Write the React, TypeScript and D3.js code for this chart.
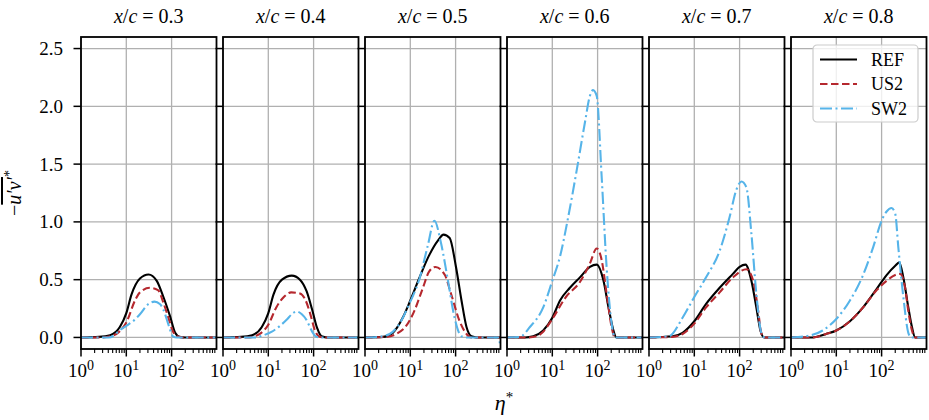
import React from "react";
import * as d3 from "d3";

// x/c stations, one panel each
const STATIONS = ["0.3", "0.4", "0.5", "0.6", "0.7", "0.8"];
const X_TICKS = [1, 10, 100];
const X_TICK_EXP = ["0", "1", "2"];
const Y_TICKS = [0, 0.5, 1.0, 1.5, 2.0, 2.5];

// [eta*, -u'v'*]
const REF = [
  [[1, 0], [2.5, 0.005], [4.4, 0.02], [7.2, 0.09], [10, 0.21], [13, 0.37], [20, 0.51], [31, 0.545], [47, 0.49], [66, 0.35], [93, 0.18], [120, 0.04], [150, 0.005], [200, 0], [980, 0]],
  [[1, 0], [2.5, 0.005], [4.4, 0.02], [7.2, 0.09], [10, 0.21], [13, 0.37], [20, 0.5], [33, 0.535], [50, 0.5], [70, 0.4], [93, 0.24], [120, 0.08], [150, 0.01], [200, 0], [980, 0]],
  [[1, 0], [2.5, 0.005], [4.1, 0.04], [6.8, 0.17], [10, 0.32], [16, 0.52], [26, 0.71], [41, 0.84], [54, 0.89], [74, 0.86], [102, 0.61], [135, 0.32], [174, 0.09], [224, 0.01], [300, 0], [980, 0]],
  [[1, 0], [2.5, 0], [3.8, 0.01], [6.3, 0.06], [10, 0.17], [14.8, 0.32], [24.5, 0.43], [40.7, 0.52], [67.6, 0.61], [95.5, 0.63], [135, 0.49], [174, 0.26], [224, 0.06], [260, 0], [980, 0]],
  [[1, 0], [3.3, 0.01], [5.5, 0.04], [10, 0.14], [18.2, 0.29], [36.3, 0.43], [71, 0.55], [100, 0.61], [135, 0.63], [182, 0.49], [234, 0.26], [288, 0.06], [350, 0], [980, 0]],
  [[1, 0], [3, 0], [6, 0.03], [10, 0.06], [20, 0.14], [39, 0.26], [78, 0.42], [129, 0.54], [200, 0.62], [245, 0.65], [302, 0.52], [389, 0.26], [468, 0.09], [550, 0], [980, 0]],
];
const US2 = [
  [[1, 0], [3, 0], [4.5, 0.01], [7, 0.05], [10, 0.13], [16, 0.33], [20, 0.39], [33, 0.43], [50, 0.41], [66, 0.3], [85, 0.17], [105, 0.06], [130, 0.01], [180, 0], [980, 0]],
  [[1, 0], [3.5, 0], [5, 0.01], [7, 0.04], [10, 0.11], [15, 0.26], [22, 0.35], [32, 0.39], [50, 0.38], [65, 0.33], [85, 0.2], [105, 0.07], [130, 0.01], [170, 0], [980, 0]],
  [[1, 0], [3, 0.005], [4.9, 0.03], [8.1, 0.1], [12.3, 0.23], [19, 0.43], [26, 0.57], [36, 0.61], [58, 0.54], [79, 0.38], [123, 0.14], [174, 0.03], [220, 0], [980, 0]],
  [[1, 0], [3, 0], [4.5, 0.01], [6.3, 0.05], [10, 0.16], [20, 0.35], [40.7, 0.48], [67.6, 0.64], [95.5, 0.77], [123, 0.67], [158, 0.38], [204, 0.09], [240, 0], [980, 0]],
  [[1, 0], [3.3, 0.005], [5.5, 0.03], [10, 0.12], [18.2, 0.26], [36.3, 0.39], [71, 0.52], [141, 0.59], [200, 0.49], [257, 0.23], [300, 0.04], [350, 0], [980, 0]],
  [[1, 0], [3, 0], [6, 0.03], [10, 0.06], [20, 0.14], [39, 0.26], [78, 0.41], [129, 0.49], [200, 0.54], [257, 0.55], [330, 0.43], [389, 0.23], [468, 0.06], [550, 0], [980, 0]],
];
const SW2 = [
  [[1, 0], [4, 0], [5.5, 0.02], [7, 0.06], [10, 0.1], [15, 0.15], [20, 0.2], [31, 0.29], [42, 0.31], [55, 0.29], [66, 0.24], [87, 0.1], [107, 0.01], [130, 0], [980, 0]],
  [[1, 0], [5, 0], [8, 0.02], [12, 0.05], [18, 0.1], [25, 0.15], [35, 0.21], [42, 0.225], [55, 0.2], [70, 0.15], [85, 0.08], [100, 0.03], [115, 0.005], [140, 0], [980, 0]],
  [[1, 0], [2, 0.005], [3.5, 0.03], [5.8, 0.12], [9.5, 0.29], [16, 0.51], [24.5, 0.8], [34, 1.01], [48, 0.81], [68, 0.49], [95, 0.17], [135, 0.01], [180, 0], [870, 0], [980, -0.08]],
  [[1, 0], [1.9, 0.005], [3.2, 0.09], [6.3, 0.26], [10, 0.49], [14.8, 0.7], [22.4, 1.04], [34.7, 1.45], [52.5, 1.86], [67.6, 2.09], [79.4, 2.14], [95.5, 2.09], [123, 1.39], [158, 0.61], [204, 0.12], [240, 0], [980, 0]],
  [[1, 0], [2.75, 0.01], [5.5, 0.17], [10, 0.35], [18.2, 0.52], [36.3, 0.75], [60, 1.04], [85, 1.28], [110, 1.35], [141, 1.3], [182, 0.9], [234, 0.38], [302, 0.04], [360, 0], [980, 0]],
  [[1, 0], [2.1, 0.01], [5, 0.06], [10, 0.16], [20, 0.32], [39, 0.54], [65, 0.78], [100, 1.01], [129, 1.09], [166, 1.12], [200, 1.07], [234, 0.78], [302, 0.35], [389, 0.04], [450, 0], [980, 0]],
];

const SERIES = [
  { name: "REF", data: REF, color: "#000000", dash: null },
  { name: "US2", data: US2, color: "#b5282e", dash: "7.5,3.5" },
  { name: "SW2", data: SW2, color: "#56b4e9", dash: "12,3.5,2,3.5" },
];

const W = 929;
const H = 420;
const LEFT = 81;
const PW = 135.5;
const GAP = 6.5;
const TOP = 37;
const BOTTOM = 349;
const FONT = "'Liberation Serif', 'DejaVu Serif', serif";

export default function App() {
  const x = d3.scaleLog().domain([1, 980]).range([0, PW]);
  const y = d3.scaleLinear().domain([-0.1, 2.6]).range([BOTTOM, TOP]);
  const minor = d3.range(0, 3).flatMap((e) => d3.range(2, 10).map((m) => m * 10 ** e)).filter((v) => v < 980);
  const line = d3
    .line<number[]>()
    .x((d) => x(d[0]))
    .y((d) => y(d[1]))
    .curve(d3.curveMonotoneX);

  return (
    <svg width={W} height={H} style={{ position: "absolute", left: 0, top: 0 }} fontFamily={FONT}>
      <rect width={W} height={H} fill="#fff" />
      {STATIONS.map((st, i) => {
        const x0 = LEFT + i * (PW + GAP);
        return (
          <g key={st} transform={`translate(${x0},0)`}>
            <clipPath id={`clip${i}`}>
              <rect x={0} y={TOP} width={PW} height={BOTTOM - TOP} />
            </clipPath>
            {/* grid */}
            {X_TICKS.map((t) => (
              <line key={t} x1={x(t)} x2={x(t)} y1={TOP} y2={BOTTOM} stroke="#b0b0b0" strokeWidth={1.3} />
            ))}
            {Y_TICKS.map((t) => (
              <line key={t} x1={0} x2={PW} y1={y(t)} y2={y(t)} stroke="#b0b0b0" strokeWidth={1.3} />
            ))}
            {/* curves */}
            <g clipPath={`url(#clip${i})`}>
              {SERIES.map((s) => (
                <path
                  key={s.name}
                  d={line(s.data[i] as number[][]) || ""}
                  fill="none"
                  stroke={s.color}
                  strokeWidth={2.1}
                  strokeDasharray={s.dash || undefined}
                />
              ))}
            </g>
            {/* spines */}
            <rect x={0} y={TOP} width={PW} height={BOTTOM - TOP} fill="none" stroke="#000" strokeWidth={1.8} />
            {/* y ticks */}
            {Y_TICKS.map((t) => (
              <line key={t} x1={-7.5} x2={0} y1={y(t)} y2={y(t)} stroke="#000" strokeWidth={1.5} />
            ))}
            {i === 0 &&
              Y_TICKS.map((t) => (
                <text key={t} x={-18} y={y(t)} dy="0.34em" textAnchor="end" fontSize={19}>
                  {d3.format(".1f")(t)}
                </text>
              ))}
            {/* x ticks */}
            {X_TICKS.map((t) => (
              <line key={t} x1={x(t)} x2={x(t)} y1={BOTTOM} y2={BOTTOM + 7.5} stroke="#000" strokeWidth={1.5} />
            ))}
            {minor.map((t) => (
              <line key={t} x1={x(t)} x2={x(t)} y1={BOTTOM} y2={BOTTOM + 4} stroke="#000" strokeWidth={1.1} />
            ))}
            {X_TICKS.map((t, k) => (
              <text key={t} x={x(t)} y={377} textAnchor="middle" fontSize={19}>
                10
                <tspan dy={-7.5} fontSize={14}>
                  {X_TICK_EXP[k]}
                </tspan>
              </text>
            ))}
            {/* title */}
            <text x={PW / 2} y={23} textAnchor="middle" fontSize={20}>
              <tspan fontStyle="italic">x</tspan>/<tspan fontStyle="italic">c</tspan> = {st}
            </text>
          </g>
        );
      })}
      {/* axis labels */}
      <text transform="translate(21,193) rotate(-90)" textAnchor="middle" fontSize={20}>
        −<tspan fontStyle="italic" textDecoration="overline" style={{ textDecoration: "overline" }}>u′v′</tspan>
        <tspan dy={-7} fontSize={14}>*</tspan>
      </text>
      <text x={504} y={410} textAnchor="middle" fontSize={22}>
        <tspan fontStyle="italic">η</tspan>
        <tspan dy={-8} fontSize={15}>*</tspan>
      </text>
      {/* legend */}
      <g transform="translate(813,45)">
        <rect width={105} height={77} rx={4} fill="#fff" fillOpacity={0.8} stroke="#cccccc" strokeWidth={1.2} />
        {SERIES.map((s, k) => (
          <g key={s.name} transform={`translate(0,${14.5 + k * 24.5})`}>
            <line x1={7} x2={44} y1={0} y2={0} stroke={s.color} strokeWidth={2.1} strokeDasharray={s.dash || undefined} />
            <text x={58} y={0} dy="0.36em" fontSize={18}>
              {s.name}
            </text>
          </g>
        ))}
      </g>
    </svg>
  );
}
